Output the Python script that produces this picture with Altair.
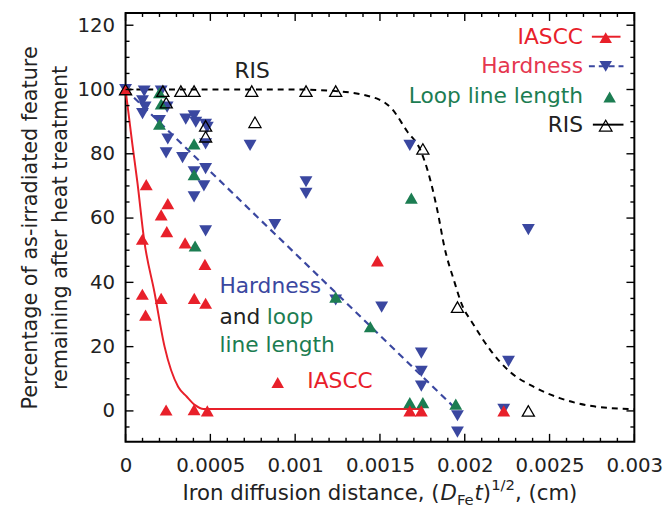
import altair as alt
import pandas as pd

# ---------------- data ----------------
iascc_x = [0, 0.000122, 0.000249, 0.00021, 0.000243, 0.000099, 0.000351, 0.000468,
           0.000099, 0.00021, 0.000405, 0.000472, 0.000118, 0.000239, 0.000404, 0.000482,
           0.001485, 0.001676, 0.001744, 0.00223]
iascc_y = [100, 70.4, 64.5, 61, 55.8, 53.4, 52.3, 45.6,
           36.3, 35, 35, 33.5, 29.8, 0.3, 0.4, 0,
           46.7, 0, 0, 0]

hard_x = [0, 0.00011, 0.0001, 0.000115, 0.0001, 0.00021, 0.000245, 0.0002,
          0.000355, 0.000404, 0.000414, 0.000472, 0.000482, 0.000249, 0.000472, 0.000734,
          0.000239, 0.000336, 0.000404, 0.000472, 0.000462, 0.000404, 0.000472, 0.00088,
          0.001064, 0.001064, 0.001239, 0.00151, 0.001676, 0.002375, 0.001744, 0.001744,
          0.001744, 0.002258, 0.001957, 0.001957, 0.00223]
hard_y = [100, 99.5, 96.5, 94.5, 92.5, 99.5, 94.5, 90.3,
          90.8, 91.8, 89.8, 89.2, 88.2, 84.6, 83.1, 82.6,
          80.3, 78.8, 74.4, 75.4, 70, 66.6, 56, 58,
          71.3, 67.7, 34.5, 32.3, 82.6, 56.4, 18, 12.3,
          7.7, 15.4, -1.5, -6.6, 0.5]

loop_x = [0, 0.0002, 0.00021, 0.0002, 0.000404, 0.000404, 0.00041, 0.001239,
          0.001443, 0.001685, 0.001676, 0.001753, 0.001947]
loop_y = [100, 99, 95.5, 89.2, 83.1, 73.5, 51.3, 35.4,
          26.2, 66.2, 2.6, 2.6, 2.1]

ris_x = [0, 0.00022, 0.000326, 0.000404, 0.000744, 0.001064, 0.001239, 0.000763,
         0.000472, 0.000472, 0.00024, 0.001753, 0.001957, 0.002375]
ris_y = [100, 99.5, 99.5, 99.5, 99.5, 99.5, 99.5, 89.8,
         88.7, 85.3, 95.9, 81.5, 32.3, 0]

# fitted curves
iascc_fit_x = [0, 0.00004, 0.00007, 0.00011, 0.00017, 0.00023, 0.00031, 0.00036,
               0.00041, 0.00046, 0.00175]
iascc_fit_y = [100, 83, 71, 53, 37, 20, 7.5, 4.5, 1.8, 0.6, 0.6]

hard_fit_x = [0, 0.00196]
hard_fit_y = [100, 0]

ris_fit_x = [0, 0.0005, 0.001, 0.00124, 0.00149, 0.00157, 0.00166, 0.00174, 0.00178,
             0.00184, 0.00188, 0.00194, 0.00198, 0.00205, 0.00215, 0.00227, 0.0024,
             0.00256, 0.00275, 0.003]
ris_fit_y = [100, 100, 100, 99.5, 97, 94, 87, 81, 75,
             62, 51, 40, 33.5, 27, 19, 12, 7.7,
             4, 1.5, 0.5]

x_major = [0, 0.0005, 0.001, 0.0015, 0.002, 0.0025, 0.003]
x_minor = [i * 0.0001 for i in range(31) if i % 5 != 0]
y_major = [0, 20, 40, 60, 80, 100, 120]
y_minor = [v for v in range(-5, 125, 5) if v % 20 != 0]

# ---------------- styling ----------------
W, H = 515, 434
FONT = "DejaVu Sans"
RED = "#e8202a"
BLUE = "#3a47a0"
GREEN = "#1c7d52"
INK = "#222222"
MAJ, MIN = 8, 4

xs = alt.Scale(domain=[0, 0.003], nice=False, zero=False)
ys = alt.Scale(domain=[-9.6, 123.8], nice=False, zero=False)

x_axis = alt.Axis(values=x_major, format="~g", title=None, grid=False, ticks=False,
                  domain=False, labelFont=FONT, labelFontSize=20, labelColor=INK,
                  labelPadding=14, labelFlush=False, labelOverlap=False)
y_axis = alt.Axis(values=y_major, format="d", grid=False, ticks=False, domain=False,
                  labelFont=FONT, labelFontSize=20, labelColor=INK, labelPadding=11,
                  title=["Percentage of as-irradiated feature",
                         "remaining after heat treatment"],
                  titleFont=FONT, titleFontSize=21, titleFontWeight="normal",
                  titleColor=INK, titleLineHeight=30, titlePadding=7)


def X(field):
    return alt.X(field, scale=xs, axis=x_axis)


def Y(field):
    return alt.Y(field, scale=ys, axis=y_axis)


one = pd.DataFrame({"k": [0]})

layers = []

# fitted lines
hard_fit = pd.DataFrame({"x": hard_fit_x, "y": hard_fit_y})
layers.append(alt.Chart(hard_fit).mark_line(color=BLUE, strokeWidth=2.2, strokeDash=[7, 5])
              .encode(x=X("x:Q"), y=Y("y:Q")))
ris_fit = pd.DataFrame({"x": ris_fit_x, "y": ris_fit_y})
layers.append(alt.Chart(ris_fit).mark_line(color="black", strokeWidth=2, strokeDash=[6, 5],
                                           interpolate="monotone")
              .encode(x=X("x:Q"), y=Y("y:Q")))
iascc_fit = pd.DataFrame({"x": iascc_fit_x, "y": iascc_fit_y})
layers.append(alt.Chart(iascc_fit).mark_line(color=RED, strokeWidth=2, interpolate="monotone")
              .encode(x=X("x:Q"), y=Y("y:Q")))

# points
hard = pd.DataFrame({"x": hard_x, "y": hard_y})
layers.append(alt.Chart(hard).mark_point(shape="triangle-down", filled=True, size=170,
                                         color=BLUE, opacity=1)
              .encode(x=X("x:Q"), y=Y("y:Q")))
loop = pd.DataFrame({"x": loop_x, "y": loop_y})
layers.append(alt.Chart(loop).mark_point(shape="triangle-up", filled=True, size=170,
                                         color=GREEN, opacity=1)
              .encode(x=X("x:Q"), y=Y("y:Q")))
iascc = pd.DataFrame({"x": iascc_x, "y": iascc_y})
layers.append(alt.Chart(iascc).mark_point(shape="triangle-up", filled=True, size=170,
                                          color=RED, opacity=1)
              .encode(x=X("x:Q"), y=Y("y:Q")))
ris = pd.DataFrame({"x": ris_x, "y": ris_y})
layers.append(alt.Chart(ris).mark_point(shape="triangle-up", filled=False, size=150,
                                        color="black", strokeWidth=1.3, opacity=1)
              .encode(x=X("x:Q"), y=Y("y:Q")))


# inward ticks on all four sides
def side_ticks(vals, length, side):
    df = pd.DataFrame({"v": vals})
    c = alt.Chart(df).mark_rule(color="black", strokeWidth=1.4)
    if side in ("left", "right"):
        x1, x2 = (0, length) if side == "left" else (W - length, W)
        return c.encode(y=Y("v:Q"), x=alt.value(x1), x2=alt.value(x2))
    y1, y2 = (H - length, H) if side == "bottom" else (0, length)
    return c.encode(x=X("v:Q"), y=alt.value(y1), y2=alt.value(y2))


for s in ("left", "right"):
    layers.append(side_ticks(y_major, MAJ, s))
    layers.append(side_ticks(y_minor, MIN, s))
for s in ("bottom", "top"):
    layers.append(side_ticks(x_major, MAJ, s))
    layers.append(side_ticks(x_minor, MIN, s))


def label(text, px, py, color, size=22, align="left", style="normal", baseline="middle"):
    return alt.Chart(one).mark_text(text=text, font=FONT, fontSize=size, color=color,
                                    align=align, baseline=baseline, fontStyle=style).encode(
        x=alt.value(px), y=alt.value(py))


def sym(shape, px, py, color, filled=True):
    return alt.Chart(one).mark_point(shape=shape, filled=filled, size=160, color=color,
                                     opacity=1, strokeWidth=1.3).encode(
        x=alt.value(px), y=alt.value(py))


def seg(px1, px2, py, color, dash=None):
    kw = dict(color=color, strokeWidth=2)
    if dash:
        kw["strokeDash"] = dash
    return alt.Chart(one).mark_rule(**kw).encode(
        x=alt.value(px1), x2=alt.value(px2), y=alt.value(py))


# legend (upper right)
LX = 463
layers += [
    label("IASCC", LX, 24, RED, 22, "right"),
    seg(472, 501, 24, RED), sym("triangle-up", 486, 25, RED),
    label("Hardness", LX, 54, "#e5364f", 22, "right"),
    seg(469, 504, 54, BLUE, [6, 4]), sym("triangle-down", 486, 54, BLUE),
    label("Loop line length", LX, 84, GREEN, 22, "right"),
    sym("triangle-up", 490, 85, GREEN),
    label("RIS", LX, 113, INK, 22, "right"),
    seg(473, 504, 113, "black"), sym("triangle-up", 486, 114, "black", filled=False),
]

# in-plot annotations
layers += [
    label("RIS", 128, 59, INK, 22, "center"),
    label("Hardness", 95, 276, BLUE, 22),
    label("and", 95, 308, INK, 22),
    label("loop", 143, 308, GREEN, 22),
    label("line length", 95, 336, GREEN, 22),
    sym("triangle-up", 154, 374, RED),
    label("IASCC", 184, 373, RED, 22),
]

# x-axis title with italic, subscript and superscript pieces
DJ = {'I': .295, 'r': .411, 'o': .612, 'n': .634, ' ': .318, 'd': .635, 'i': .278,
      'f': .352, 'u': .634, 's': .521, 't': .392, 'a': .613, 'c': .550, 'e': .615,
      ',': .318, '(': .390, ')': .390, 'D': .770, 'F': .575, '1': .636, '2': .636,
      '/': .337, 'm': .974}
TF, SF = 21.5, 15
pieces = [("Iron diffusion distance, (", TF, 0, "normal"),
          ("D", TF, 0, "italic"),
          ("Fe", SF, 6, "normal"),
          ("t", TF, 0, "italic"),
          (")", TF, 0, "normal"),
          ("1/2", SF, -9, "normal"),
          (", (cm)", TF, 0, "normal")]
widths = [sum(DJ[ch] for ch in t) * fs for t, fs, _, _ in pieces]
cx = W / 2 - sum(widths) / 2
TY = H + 53
for (t, fs, dy, st), w in zip(pieces, widths):
    layers.append(label(t, cx, TY + dy, INK, fs, "left", st))
    cx += w

chart = alt.layer(*layers).properties(
    width=W, height=H,
    padding={"left": 11, "top": 1, "right": 0, "bottom": 0},
    background="white",
).configure_view(stroke="black", strokeWidth=2)

chart.save("out.html", embed_options={"renderer": "svg", "actions": False})
